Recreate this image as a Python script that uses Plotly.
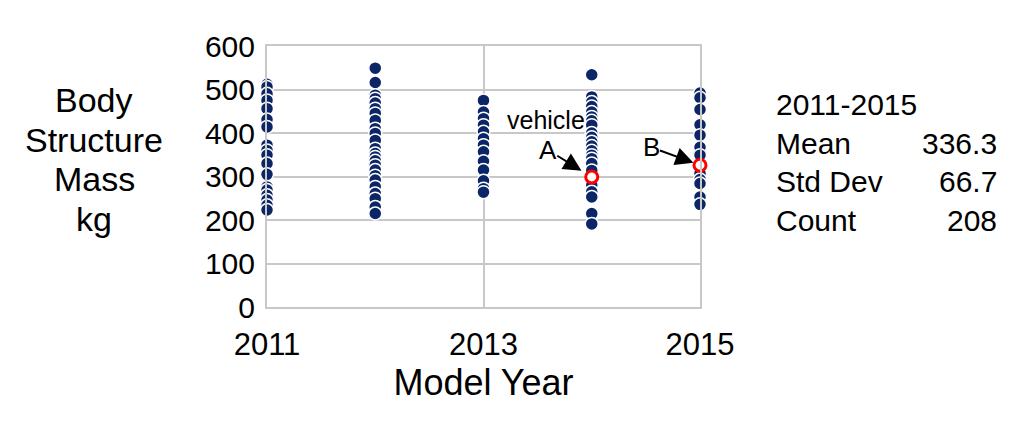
import plotly.graph_objects as go

# ---- data ----
years = [2011, 2012, 2013, 2014, 2015]
mass_2011 = [512, 506, 490, 475, 456, 431, 414, 372, 360, 349, 330, 305, 276, 269, 257, 246, 234, 223]
mass_2012 = [549, 516, 487, 479, 469, 456, 445, 429, 410, 399, 383, 364, 353, 345, 336, 326, 315, 302,
             292, 276, 261, 249, 230, 215]
mass_2013 = [475, 448, 433, 418, 403, 387, 372, 357, 335, 315, 290, 272, 264]
mass_2014 = [534, 483, 471, 461, 448, 437, 428, 418, 400, 390, 380, 370, 359, 349, 341, 330, 314,
             280, 265, 253, 215, 191]
mass_2015 = [492, 481, 454, 419, 395, 367, 349, 307, 293, 284, 253, 236]
highlight_labels = ["A", "B"]
highlight_years = [2014, 2015]
highlight_mass = [299, 326]
x_ticks = [2011, 2013, 2015]
y_ticks = [0, 100, 200, 300, 400, 500, 600]
y_title_lines = ["Body", "Structure", "Mass", "kg"]
stats_title = "2011-2015"
stats_names = ["Mean", "Std Dev", "Count"]
stats_values = ["336.3", "66.7", "208"]

series = [mass_2011, mass_2012, mass_2013, mass_2014, mass_2015]
xs, ys = [], []
for yr, vals in zip(years, series):
    xs += [yr] * len(vals)
    ys += vals

OFF = 8  # page body margin
W, H = 1024, 425
L, T = 267 - OFF, 46 - OFF
PW, PH = 433, 261
R = W - L - PW
B = H - T - PH


def px(xp):
    return (xp - OFF - L) / PW


def py(yp):
    return (T + PH - (yp - OFF)) / PH


FONT = "Liberation Sans, Arial, sans-serif"
GRID = "#c8c8c8"

fig = go.Figure()
fig.add_trace(go.Scatter(
    x=xs, y=ys, mode="markers", cliponaxis=False, showlegend=False,
    marker=dict(size=13, color="#0b2566", line=dict(color="white", width=1.5)),
))
fig.add_trace(go.Scatter(
    x=highlight_years, y=highlight_mass, mode="markers", cliponaxis=False, showlegend=False,
    marker=dict(size=12, color="white", line=dict(color="#ff0000", width=3)),
))

annotations = []
# y-axis title (horizontal, one line each)
for i, line in enumerate(y_title_lines):
    annotations.append(dict(
        text=line, xref="paper", yref="paper",
        x=px(94), y=py(100 + 39.5 * i), xanchor="center", yanchor="middle", showarrow=False,
        font=dict(family=FONT, size=34, color="black"),
    ))
# stats box
annotations.append(dict(
    text=stats_title, xref="paper", yref="paper", x=px(774), y=py(104),
    xanchor="left", yanchor="middle", showarrow=False,
    font=dict(family=FONT, size=30, color="black"),
))
for i, (n, v) in enumerate(zip(stats_names, stats_values)):
    yy = 143 + 38.5 * i
    annotations.append(dict(text=n, xref="paper", yref="paper", x=px(774), y=py(yy),
                            xanchor="left", yanchor="middle", showarrow=False,
                            font=dict(family=FONT, size=30, color="black")))
    annotations.append(dict(text=v, xref="paper", yref="paper", x=px(999), y=py(yy),
                            xanchor="right", yanchor="middle", showarrow=False,
                            font=dict(family=FONT, size=30, color="black")))
# "vehicle" label
annotations.append(dict(text="vehicle", x=2013.58, y=429, xref="x", yref="y", showarrow=False,
                        xanchor="center", yanchor="middle", borderpad=0,
                        font=dict(family=FONT, size=25, color="black")))
# A / B arrows
offsets = [(-44, -27), (-49, -18)]
standoffs = [12, 7]
for lab, xv, yv, (ax, ay), so in zip(highlight_labels, highlight_years, highlight_mass, offsets, standoffs):
    annotations.append(dict(
        text=lab, x=xv, y=yv, xref="x", yref="y", ax=ax, ay=ay, axref="pixel", ayref="pixel",
        showarrow=True, arrowhead=2, arrowsize=1.8, arrowwidth=2, arrowcolor="black",
        standoff=so, borderpad=0, font=dict(family=FONT, size=26, color="black"),
    ))

fig.update_layout(
    width=W, height=H, margin=dict(l=L, r=R, t=T, b=B, autoexpand=False),
    paper_bgcolor="white", plot_bgcolor="white",
    font=dict(family=FONT, color="black"),
    annotations=annotations,
    xaxis=dict(
        range=[2011, 2015], tickvals=x_ticks, ticktext=[str(t) for t in x_ticks],
        showgrid=True, gridcolor=GRID, gridwidth=2, zeroline=False,
        showline=True, linecolor=GRID, linewidth=2, mirror=True,
        ticks="outside", ticklen=9, tickcolor="rgba(0,0,0,0)",
        tickfont=dict(family=FONT, size=31, color="black"),
        title=dict(text="Model Year", font=dict(family=FONT, size=36, color="black"), standoff=0),
        automargin=False,
    ),
    yaxis=dict(
        range=[0, 600], tickvals=y_ticks, ticktext=[str(t) for t in y_ticks],
        showgrid=True, gridcolor=GRID, gridwidth=2, zeroline=False,
        showline=True, linecolor=GRID, linewidth=2, mirror=True,
        ticks="outside", ticklen=4, tickcolor="rgba(0,0,0,0)",
        tickfont=dict(family=FONT, size=30, color="black"),
        automargin=False,
    ),
)

fig.write_html("out.html")
